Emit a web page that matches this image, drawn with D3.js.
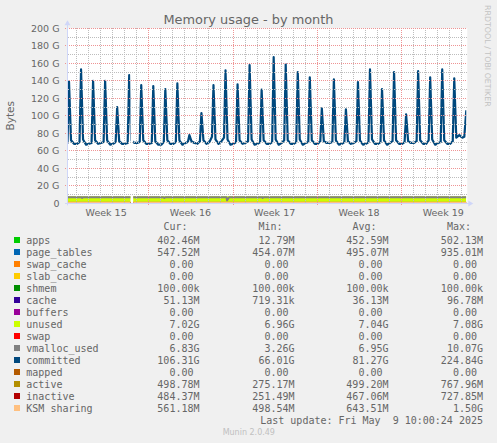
<!DOCTYPE html>
<html>
<head>
<meta charset="utf-8">
<script src="https://cdn.jsdelivr.net/npm/d3@7"></script>
<style>
  html, body { margin: 0; padding: 0; background: #f0f0f0; }
  svg { display: block; }
  text { white-space: pre; }
</style>
</head>
<body>
<svg id="chart" width="497" height="443"></svg>
<script>
// ---- data ----
const startTime = "2025-04-06 06:00";
const endTime = "2025-05-09 12:00";
const lastSample = "2025-05-09 10:00";

// one entry per day, the daily spike of "committed" sits around 10:00
const days = [
  "2025-04-06", "2025-04-07", "2025-04-08", "2025-04-09", "2025-04-10", "2025-04-11", "2025-04-12",
  "2025-04-13", "2025-04-14", "2025-04-15", "2025-04-16", "2025-04-17", "2025-04-18", "2025-04-19",
  "2025-04-20", "2025-04-21", "2025-04-22", "2025-04-23", "2025-04-24", "2025-04-25", "2025-04-26",
  "2025-04-27", "2025-04-28", "2025-04-29", "2025-04-30", "2025-05-01", "2025-05-02", "2025-05-03",
  "2025-05-04", "2025-05-05", "2025-05-06", "2025-05-07", "2025-05-08"
];

// committed, GB
const committedNight = [69, 68, 68, 69, 68, 68, 69, 68, 67, 68, 69, 68, 70, 71, 68, 69, 68, 68, 69, 68, 69, 68, 69, 68, 69, 68, 68, 69, 68, 69, 68, 69, 68];
const committedBase = [69, 70, 69, 70, 70, 69, 70, 69, 70, 70, 70, 71, 76, 75, 70, 71, 70, 70, 72, 70, 70, 71, 70, 70, 71, 70, 70, 71, 70, 71, 72, 70, 71];
const committedPeak = [139, 153, 140, 140, 110, 146.6, 135, 134, 130.6, 137, 78, 103, 135, 152, 136, 158, 130, 167, 159, 150, 144, 108.6, 141.7, 107.4, 138.6, 153, 130.6, 150, 101.7, 151, 144, 153, 142.8];
const committedAfter = [72, 73, 72, 72, 71, 72, 72, 71, 72, 72, 71, 72, 73, 73, 72, 73, 72, 73, 72, 73, 72, 71, 72, 71, 72, 73, 72, 72, 71, 72, 73, 72, 75];
const committedEvening = [68, 67, 68, 67, 68, 69, 68, 67, 68, 67, 69, 68, 68, 67, 68, 67, 68, 67, 68, 67, 68, 69, 67, 68, 67, 68, 67, 68, 69, 68, 67, 68, 78];
const committedEndTimes = ["2025-05-09 02:00", "2025-05-09 06:00", "2025-05-09 10:00"];
const committedEndValues = [75, 76, 106.31];

// missing data
const gaps = [["2025-04-11 12:30", "2025-04-11 18:00"]];

// lower series, GB, sampled at start, each day 12:00, and last sample
const apps = [
  0.42, 0.42, 0.43, 0.42, 0.44, 0.43, 0.42,
  0.43, 0.44, 0.42, 0.43, 0.44, 0.43, 0.42,
  0.44, 0.43, 0.42, 0.43, 0.44, 0.43, 0.42,
  0.43, 0.44, 0.42, 0.43, 0.44, 0.43, 0.42,
  0.44, 0.43, 0.42, 0.43, 0.44, 0.43, 0.40
];
const pageTables = [
  0.49, 0.49, 0.50, 0.49, 0.49, 0.50, 0.49,
  0.49, 0.50, 0.49, 0.49, 0.50, 0.49, 0.49,
  0.50, 0.49, 0.49, 0.50, 0.49, 0.49, 0.50,
  0.49, 0.49, 0.50, 0.49, 0.49, 0.50, 0.49,
  0.49, 0.50, 0.49, 0.49, 0.50, 0.49, 0.55
];
const cache = [
  0.03, 0.04, 0.03, 0.04, 0.03, 0.04, 0.03,
  0.04, 0.03, 0.04, 0.03, 0.04, 0.03, 0.04,
  0.03, 0.04, 0.03, 0.04, 0.03, 0.04, 0.03,
  0.04, 0.03, 0.04, 0.03, 0.04, 0.03, 0.04,
  0.03, 0.04, 0.03, 0.04, 0.03, 0.04, 0.05
];
const unused = [
  7.04, 7.05, 7.03, 7.04, 7.06, 7.02, 7.04,
  7.05, 7.03, 7.04, 7.06, 7.05, 7.03, 7.04,
  7.02, 7.04, 7.05, 7.03, 7.04, 7.06, 7.04,
  7.03, 7.05, 7.04, 7.02, 7.04, 7.05, 7.03,
  7.04, 7.06, 7.04, 7.03, 7.05, 7.04, 7.02
];
const vmallocUsed = [
  6.95, 6.95, 6.90, 6.95, 7.00, 6.95, 6.90,
  6.95, 7.00, 6.90, 6.95, 6.90, 7.00, 6.95,
  6.95, 6.95, 7.00, 6.90, 6.95, 7.00, 6.95,
  6.90, 7.00, 6.95, 6.90, 6.95, 7.00, 6.95,
  6.90, 6.95, 7.00, 6.95, 6.90, 6.95, 6.83
];
const vmallocDips = [
  ["2025-04-07 10:00", 6.9], ["2025-04-07 12:00", 6.0], ["2025-04-07 14:00", 6.9],
  ["2025-04-14 06:00", 6.9], ["2025-04-14 08:00", 6.0], ["2025-04-14 10:00", 6.9],
  ["2025-04-19 09:00", 6.95], ["2025-04-19 13:00", 3.3], ["2025-04-19 17:00", 6.95],
  ["2025-04-22 10:00", 6.9], ["2025-04-22 12:00", 6.1], ["2025-04-22 14:00", 6.9]
];
const active = [
  0.50, 0.50, 0.49, 0.50, 0.51, 0.50, 0.49,
  0.50, 0.51, 0.50, 0.49, 0.50, 0.51, 0.50,
  0.49, 0.50, 0.51, 0.50, 0.49, 0.50, 0.51,
  0.50, 0.49, 0.50, 0.51, 0.50, 0.49, 0.50,
  0.51, 0.50, 0.49, 0.50, 0.51, 0.50, 0.50
];
const inactive = [
  0.47, 0.46, 0.47, 0.48, 0.47, 0.46, 0.47,
  0.48, 0.47, 0.46, 0.47, 0.48, 0.47, 0.46,
  0.47, 0.48, 0.47, 0.46, 0.47, 0.48, 0.47,
  0.46, 0.47, 0.48, 0.47, 0.46, 0.47, 0.48,
  0.47, 0.46, 0.47, 0.48, 0.47, 0.46, 0.48
];
const ksmSharing = [
  0.62, 0.64, 0.63, 0.65, 0.64, 0.62, 0.63,
  0.64, 0.66, 0.64, 0.63, 0.65, 0.64, 0.62,
  0.63, 0.65, 0.64, 0.66, 0.63, 0.64, 0.65,
  0.63, 0.64, 0.66, 0.64, 0.63, 0.65, 0.64,
  0.62, 0.64, 0.65, 0.63, 0.64, 0.62, 0.56
];

// legend
const legendNames = ["apps", "page_tables", "swap_cache", "slab_cache", "shmem", "cache", "buffers", "unused", "swap",
  "vmalloc_used", "committed", "mapped", "active", "inactive", "KSM sharing"];
const legendColors = ["#00cc00", "#0066b3", "#ff8000", "#ffcc00", "#008f00", "#330099", "#990099", "#ccff00", "#ff0000",
  "#808080", "#00487d", "#b35a00", "#b38f00", "#b30000", "#ffc080"];
const legendCur = ["402.46M", "547.52M", "0.00", "0.00", "100.00k", "51.13M", "0.00", "7.02G", "0.00", "6.83G", "106.31G", "0.00", "498.78M", "484.37M", "561.18M"];
const legendMin = ["12.79M", "454.07M", "0.00", "0.00", "100.00k", "719.31k", "0.00", "6.96G", "0.00", "3.26G", "66.01G", "0.00", "275.17M", "251.49M", "498.54M"];
const legendAvg = ["452.59M", "495.07M", "0.00", "0.00", "100.00k", "36.13M", "0.00", "7.04G", "0.00", "6.95G", "81.27G", "0.00", "499.20M", "467.06M", "643.51M"];
const legendMax = ["502.13M", "935.01M", "0.00", "0.00", "100.00k", "96.78M", "0.00", "7.08G", "0.00", "10.07G", "224.84G", "0.00", "767.96M", "727.85M", "1.50G"];

const yTicks = [0, 20, 40, 60, 80, 100, 120, 140, 160, 180, 200];
const yMinorTicks = [10, 30, 50, 70, 90, 110, 130, 150, 170, 190];

// ---- drawing ----
const parse = d3.timeParse("%Y-%m-%d %H:%M");
const svg = d3.select("#chart");
const sans = "'DejaVu Sans', sans-serif";
const mono = "'DejaVu Sans Mono', monospace";
const fontColor = "#666";
const axisColor = "#cfd6f8";

const pLeft = 67, pRight = 467.3, pTop = 28.3, pBottom = 203.3;

const x = d3.scaleTime()
  .domain([parse(startTime), parse(endTime)])
  .range([pLeft, pRight]);
const y = d3.scaleLinear()
  .domain([0, 200])
  .range([pBottom, pTop]);

// canvas
svg.append("rect")
  .attr("x", pLeft).attr("y", pTop)
  .attr("width", pRight - pLeft).attr("height", pBottom - pTop)
  .attr("fill", "#fff");

// clip: canvas minus the missing-data gaps
const clip = svg.append("defs").append("clipPath").attr("id", "plotclip");
let segStart = pLeft;
gaps.forEach(([a, b]) => {
  clip.append("rect").attr("x", segStart).attr("y", pTop - 5)
    .attr("width", x(parse(a)) - segStart).attr("height", pBottom - pTop + 5);
  segStart = x(parse(b));
});
clip.append("rect").attr("x", segStart).attr("y", pTop - 5)
  .attr("width", x(parse(lastSample)) - segStart).attr("height", pBottom - pTop + 5);

const plot = svg.append("g").attr("clip-path", "url(#plotclip)");

// stacked areas
const stackTimes = [parse(startTime), ...days.map((d) => parse(d + " 12:00")), parse(lastSample)];
const stackRows = stackTimes.map((t, i) => ({
  t,
  apps: apps[i],
  page_tables: pageTables[i],
  cache: cache[i],
  unused: unused[i],
}));
const stackKeys = ["apps", "page_tables", "cache", "unused"];
const stackColor = { apps: "#00cc00", page_tables: "#0066b3", cache: "#330099", unused: "#ccff00" };
const series = d3.stack().keys(stackKeys)(stackRows);

const area = d3.area()
  .x((d) => x(d.data.t))
  .y0((d) => y(d[0]))
  .y1((d) => y(d[1]));

plot.append("g")
  .selectAll("path")
  .data(series)
  .join("path")
  .attr("d", area)
  .attr("fill", (d) => stackColor[d.key]);

// lines
const line = d3.line()
  .x((d) => x(d[0]))
  .y((d) => y(d[1]));

const vmallocPts = stackTimes.map((t, i) => [t, vmallocUsed[i]])
  .concat(vmallocDips.map(([t, v]) => [parse(t), v]))
  .sort((a, b) => a[0] - b[0]);

const committedPts = [];
days.forEach((d, i) => {
  committedPts.push([parse(d + " 02:00"), committedNight[i]]);
  committedPts.push([parse(d + " 07:00"), committedBase[i]]);
  committedPts.push([parse(d + " 10:00"), committedPeak[i]]);
  committedPts.push([parse(d + " 14:00"), committedAfter[i]]);
  committedPts.push([parse(d + " 20:00"), committedEvening[i]]);
});
committedEndTimes.forEach((t, i) => committedPts.push([parse(t), committedEndValues[i]]));

const lineSeries = [
  { pts: vmallocPts, color: "#808080", w: 2 },
  { pts: committedPts, color: "#00487d", w: 2.2 },
  { pts: stackTimes.map((t) => [t, 0]), color: "#b35a00", w: 2 },
  { pts: stackTimes.map((t, i) => [t, active[i]]), color: "#b38f00", w: 2 },
  { pts: stackTimes.map((t, i) => [t, inactive[i]]), color: "#b30000", w: 2 },
  { pts: stackTimes.map((t, i) => [t, ksmSharing[i]]), color: "#ffc080", w: 2 },
];

plot.append("g")
  .selectAll("path")
  .data(lineSeries)
  .join("path")
  .attr("d", (d) => line(d.pts))
  .attr("fill", "none")
  .attr("stroke", (d) => d.color)
  .attr("stroke-width", (d) => d.w)
  .attr("stroke-linejoin", "round");

// grid on top, like rrdtool does; whole-pixel dotted lines
const gTop = Math.round(pTop), gBottom = Math.round(pBottom);
const px = (v) => Math.round(v) + 0.5;
const grid = svg.append("g");
const dayTicks = d3.timeDay.range(x.domain()[0], x.domain()[1]);
const minorDays = dayTicks.filter((d) => d.getDay() !== 0);
const weekDays = dayTicks.filter((d) => d.getDay() === 0);
const minorColor = "#bdbdbd", majorColor = "#ee9494";

grid.append("g")
  .selectAll("line")
  .data(minorDays)
  .join("line")
  .attr("x1", (d) => px(x(d))).attr("x2", (d) => px(x(d)))
  .attr("y1", gTop).attr("y2", gBottom)
  .attr("stroke", minorColor).attr("stroke-dasharray", "1 1");

grid.append("g")
  .selectAll("line")
  .data(yMinorTicks)
  .join("line")
  .attr("x1", pLeft + 1).attr("x2", Math.round(pRight))
  .attr("y1", (d) => px(y(d) - 0.5)).attr("y2", (d) => px(y(d) - 0.5))
  .attr("stroke", minorColor).attr("stroke-dasharray", "1 1");

grid.append("g")
  .selectAll("line")
  .data(weekDays)
  .join("line")
  .attr("x1", (d) => px(x(d))).attr("x2", (d) => px(x(d)))
  .attr("y1", gTop).attr("y2", gBottom + 2)
  .attr("stroke", majorColor).attr("stroke-dasharray", "1 1");

grid.append("g")
  .selectAll("line")
  .data(yTicks.filter((d) => d > 0))
  .join("line")
  .attr("x1", pLeft - 2).attr("x2", Math.round(pRight))
  .attr("y1", (d) => px(y(d) - 0.5)).attr("y2", (d) => px(y(d) - 0.5))
  .attr("stroke", majorColor).attr("stroke-dasharray", "1 1");

// axes with arrows
const ax = svg.append("g");
ax.append("line")
  .attr("x1", pLeft + 0.5).attr("x2", pLeft + 0.5)
  .attr("y1", pBottom + 2).attr("y2", pTop - 5)
  .attr("stroke", axisColor);
ax.append("line")
  .attr("x1", pLeft - 2).attr("x2", pRight + 2)
  .attr("y1", gBottom + 0.5).attr("y2", gBottom + 0.5)
  .attr("stroke", axisColor);
ax.append("path")
  .attr("d", `M${pLeft - 2.5},${pTop - 3} L${pLeft + 0.5},${pTop - 8} L${pLeft + 3.5},${pTop - 3} Z`)
  .attr("fill", axisColor);
ax.append("path")
  .attr("d", `M${pRight + 1},${gBottom - 2.5} L${pRight + 6},${gBottom + 0.5} L${pRight + 1},${gBottom + 3.5} Z`)
  .attr("fill", axisColor);

// y labels
svg.append("g")
  .selectAll("text")
  .data(yTicks)
  .join("text")
  .attr("x", 59.5)
  .attr("y", (d) => y(d) + 3.4)
  .attr("text-anchor", "end")
  .style("font-family", sans)
  .style("font-size", "9.5px")
  .style("fill", fontColor)
  .text((d) => (d === 0 ? "0" : `${d} G`));

// week labels, centred in each week
const weekFmt = d3.timeFormat("%V");
const weekCentres = d3.timeSunday.range(d3.timeSunday.floor(x.domain()[0]), x.domain()[1])
  .map((d) => d3.timeHour.offset(d, 84))
  .filter((d) => d > x.domain()[0] && d < x.domain()[1]);
svg.append("g")
  .selectAll("text")
  .data(weekCentres)
  .join("text")
  .attr("x", (d) => x(d))
  .attr("y", 215.8)
  .attr("text-anchor", "middle")
  .style("font-family", sans)
  .style("font-size", "9.5px")
  .style("fill", fontColor)
  .text((d) => `Week ${+weekFmt(d)}`);

// title and side texts
svg.append("text")
  .attr("x", 248.5).attr("y", 24)
  .attr("text-anchor", "middle")
  .style("font-family", sans).style("font-size", "12.9px").style("fill", fontColor)
  .text("Memory usage - by month");

svg.append("text")
  .attr("transform", "translate(14,115.8) rotate(-90)")
  .attr("text-anchor", "middle")
  .style("font-family", sans).style("font-size", "10.5px").style("fill", fontColor)
  .text("Bytes");

svg.append("text")
  .attr("transform", "translate(485,5) rotate(90)")
  .style("font-family", sans).style("font-size", "7.9px").style("fill", "#c2c2c2")
  .text("RRDTOOL / TOBI OETIKER");

// legend
const colRight = [199.5, 294.5, 388.5, 483];
const heads = ["Cur:", "Min:", "Avg:", "Max:"];
const leg = svg.append("g").style("font-family", mono).style("font-size", "10px").style("fill", fontColor);

leg.selectAll(".head")
  .data(heads)
  .join("text")
  .attr("x", (d, i) => colRight[i] - 12)
  .attr("y", 229.5)
  .attr("text-anchor", "end")
  .text((d) => d);

const pad = (s) => (/[0-9]$/.test(s) ? s + " " : s);
const rows = leg.selectAll(".row")
  .data(legendNames)
  .join("g")
  .attr("transform", (d, i) => `translate(0,${240 + i * 12})`);

rows.append("rect")
  .attr("x", 14).attr("y", -3)
  .attr("width", 6).attr("height", 6)
  .attr("fill", (d, i) => legendColors[i]);

rows.append("text")
  .attr("x", 26.3).attr("y", 3.5)
  .text((d) => d);

[legendCur, legendMin, legendAvg, legendMax].forEach((col, c) => {
  rows.append("text")
    .attr("x", colRight[c]).attr("y", 3.5)
    .attr("text-anchor", "end")
    .text((d, i) => pad(col[i]));
});

leg.append("text")
  .attr("x", 483).attr("y", 423.5)
  .attr("text-anchor", "end")
  .text("Last update: Fri May  9 10:00:24 2025");

svg.append("text")
  .attr("x", 248.8).attr("y", 435)
  .attr("text-anchor", "middle")
  .style("font-family", sans).style("font-size", "8px").style("fill", "#c0c0c0")
  .text("Munin 2.0.49");
</script>
</body>
</html>
